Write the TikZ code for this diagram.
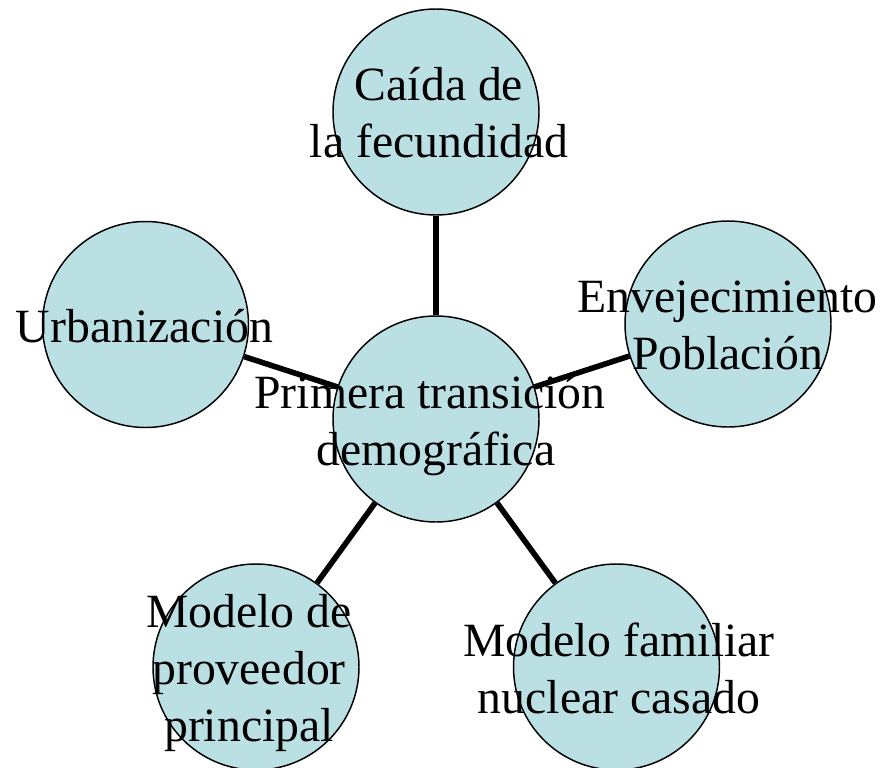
\documentclass[tikz,border=0pt]{standalone}
\usepackage{fontspec}
\setmainfont{Liberation Serif}
\definecolor{celeste}{RGB}{187,224,227}
\tikzset{
  bubble/.style={circle,draw=black,line width=1.1pt,fill=celeste,minimum size=154.5pt,inner sep=0pt},
  rotulo/.style={align=center,inner sep=0pt,font=\fontsize{35.8}{42.75}\selectfont},
  enlace/.style={line width=4.2pt}
}
\begin{document}
\begin{tikzpicture}[x=0.75pt,y=-0.75pt]
      \useasboundingbox (0,0) rectangle (883,768);
      \node[bubble] (centro) at (436,419) {};
      \node[bubble] (caida) at (436,112) {};
      \node[bubble] (envej) at (728,324) {};
      \node[bubble] (urban) at (145.5,324.5) {};
      \node[bubble] (proveedor) at (256,667) {};
      \node[bubble] (nuclear) at (616.5,667) {};
      \begin{scope}[enlace]
        \draw (centro) to (caida);
        \draw (centro) to (envej);
        \draw (centro) to (urban);
        \draw (centro) to (proveedor);
        \draw (centro) to (nuclear);
      \end{scope}
      \node[rotulo] (t-centro) at (436,425.5) {Primera transición\hspace*{.25em}\\demográfica};
      \node[rotulo] (t-caida) at (439,112.3) {Caída de\\la fecundidad};
      \node[rotulo] (t-envej) at (727.5,325.2) {Envejecimiento\\Población};
      \node[rotulo] (t-urban) at (144.5,325.8) {Urbanización};
      \node[rotulo] (t-proveedor) at (249,673) {Modelo de\\proveedor\\principal};
      \node[rotulo] (t-nuclear) at (619,668.3) {Modelo familiar\\nuclear casado};
    \end{tikzpicture}
\end{document}
